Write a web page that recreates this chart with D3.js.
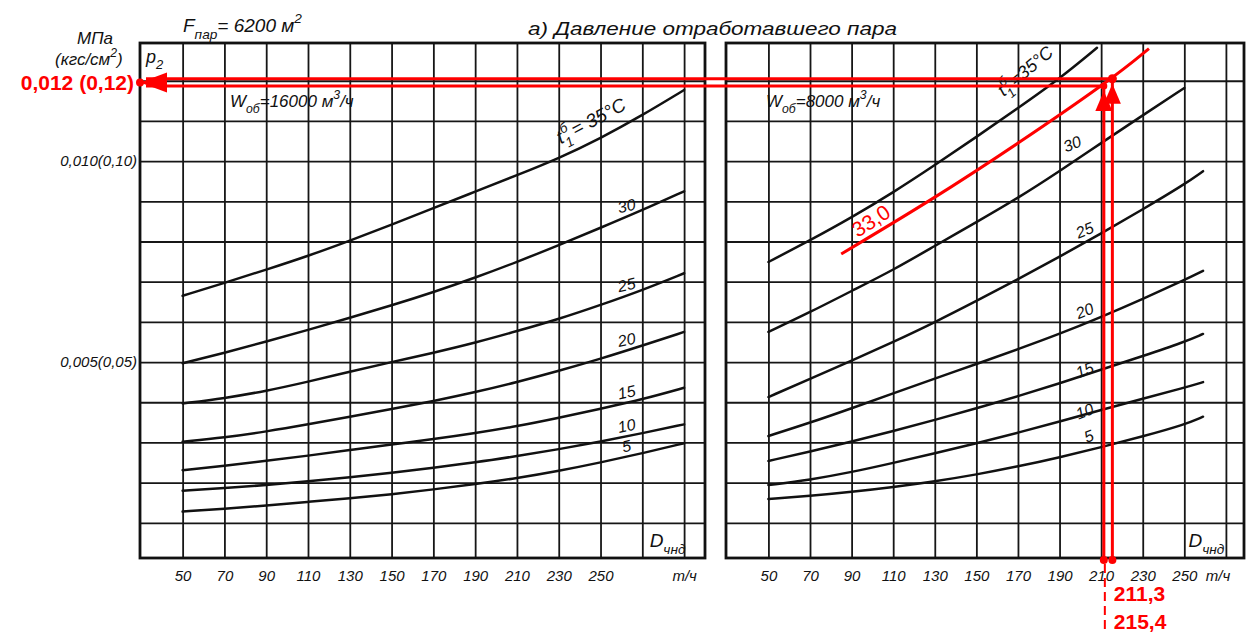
<!DOCTYPE html>
<html>
<head>
<meta charset="utf-8">
<script src="https://cdn.jsdelivr.net/npm/d3@7"></script>
<style>
  body { margin: 0; background: #fff; }
  svg { display: block; }
  .grid line { stroke: #161616; stroke-width: 1.8; }
  .grid path, .ticks path { display: none; }
  .ticks text { font-family: "Liberation Sans", Arial, sans-serif; font-style: italic; font-size: 15px; fill: #111; }
  .lbl { font-family: "Liberation Sans", Arial, sans-serif; font-style: italic; fill: #111; }
  .curve { fill: none; stroke: #111; stroke-width: 2.5; stroke-linecap: round; }
  .red { fill: none; stroke: #ff0000; stroke-width: 3; }
  .redtxt { font-family: "Liberation Sans", Arial, sans-serif; font-weight: bold; fill: #ff0000; }
</style>
</head>
<body>
<svg id="chart" width="1252" height="632"></svg>
<script>
// ---- data (pressure in MPa, steam flow D in t/h) ----
const tempLabels = ["35", "30", "25", "20", "15", "10", "5"];

// left panel: W = 16000 m3/h
const leftD = [50, 70, 90, 110, 130, 150, 170, 190, 210, 230, 250, 270, 290];
const left35 = [0.00665, 0.00697, 0.00730, 0.00764, 0.00802, 0.00842, 0.00883, 0.00924, 0.00965, 0.01007, 0.01057, 0.01114, 0.01177];
const left30 = [0.00497, 0.00523, 0.00551, 0.00580, 0.00610, 0.00641, 0.00674, 0.00710, 0.00749, 0.00791, 0.00834, 0.00878, 0.00925];
const left25 = [0.00397, 0.00410, 0.00428, 0.00451, 0.00476, 0.00500, 0.00523, 0.00548, 0.00577, 0.00607, 0.00642, 0.00679, 0.00721];
const left20 = [0.00302, 0.00312, 0.00327, 0.00345, 0.00364, 0.00383, 0.00403, 0.00425, 0.00450, 0.00478, 0.00508, 0.00541, 0.00575];
const left15 = [0.00231, 0.00242, 0.00254, 0.00267, 0.00281, 0.00295, 0.00308, 0.00323, 0.00340, 0.00361, 0.00384, 0.00407, 0.00436];
const left10 = [0.00180, 0.00186, 0.00194, 0.00203, 0.00213, 0.00224, 0.00237, 0.00250, 0.00266, 0.00283, 0.00302, 0.00323, 0.00345];
const left5  = [0.00128, 0.00135, 0.00143, 0.00152, 0.00161, 0.00171, 0.00183, 0.00196, 0.00211, 0.00229, 0.00250, 0.00273, 0.00298];

// right panel: W = 8000 m3/h
const rightD35 = [50, 70, 90, 110, 130, 150, 170, 190, 208];
const right35 = [0.00749, 0.00803, 0.00860, 0.00922, 0.00990, 0.01060, 0.01132, 0.01205, 0.01282];
const rightD30 = [50, 70, 90, 110, 130, 150, 170, 190, 210, 230, 250];
const right30 = [0.00575, 0.00624, 0.00677, 0.00729, 0.00789, 0.00848, 0.00908, 0.00975, 0.01045, 0.01114, 0.01182];
const rightD = [50, 70, 90, 110, 130, 150, 170, 190, 210, 230, 250, 259];
const right25 = [0.00413, 0.00458, 0.00503, 0.00550, 0.00599, 0.00652, 0.00706, 0.00762, 0.00820, 0.00880, 0.00942, 0.00975];
const right20 = [0.00316, 0.00349, 0.00385, 0.00422, 0.00459, 0.00495, 0.00532, 0.00570, 0.00612, 0.00657, 0.00704, 0.00727];
const right15 = [0.00254, 0.00277, 0.00302, 0.00328, 0.00356, 0.00385, 0.00415, 0.00447, 0.00481, 0.00515, 0.00550, 0.00570];
const right10 = [0.00194, 0.00207, 0.00226, 0.00249, 0.00273, 0.00298, 0.00324, 0.00352, 0.00381, 0.00409, 0.00436, 0.00450];
const right5  = [0.00159, 0.00167, 0.00177, 0.00189, 0.00203, 0.00220, 0.00240, 0.00263, 0.00288, 0.00315, 0.00344, 0.00364];

// axes
const gridP = [0.001, 0.002, 0.003, 0.004, 0.005, 0.006, 0.007, 0.008, 0.009, 0.010, 0.011, 0.012];
const yTickVals = [0.005, 0.010];
const yTickLabels = ["0,005(0,05)", "0,010(0,10)"];
const xTickVals = [50, 70, 90, 110, 130, 150, 170, 190, 210, 230, 250];

// red read-off annotation
const red33D = [85, 129, 169, 215.4, 233];
const red33P = [0.00769, 0.00905, 0.01040, 0.01205, 0.01280];
const readD = [211.3, 215.4];
const readP = [0.01187, 0.01205];
const readLabels = ["211,3", "215,4"];
const resultLabel = "0,012 (0,12)";

// ---- layout ----
const svg = d3.select("#chart");
const frameTop = 43, frameBottom = 558;
const y = d3.scaleLinear().domain([0.000124, 0.01294]).range([frameBottom, frameTop]);

const panels = [
  {
    x: d3.scaleLinear().domain([29.6, 300]).range([140, 705]),
    gridD: [50, 70, 90, 110, 130, 150, 170, 190, 210, 230, 250, 270, 290],
    unitD: 290,
    curves: [left35, left30, left25, left20, left15, left10, left5].map((p, i) => ({d: leftD, p: p, t: tempLabels[i]})),
    w: "16000", wX: 230, tD: 231, tOff: -13, tDx: 0, tRot: -28, tSize: 19, tText: "= 35°C",
    dD: 273.5
  },
  {
    x: d3.scaleLinear().domain([29.6, 278.7]).range([726, 1244]),
    gridD: [50, 70, 90, 110, 130, 150, 170, 190, 210, 230, 250, 270],
    unitD: 266,
    curves: [
      {d: rightD35, p: right35, t: "35"}, {d: rightD30, p: right30, t: "30"},
      {d: rightD, p: right25, t: "25"}, {d: rightD, p: right20, t: "20"},
      {d: rightD, p: right15, t: "15"}, {d: rightD, p: right10, t: "10"},
      {d: rightD, p: right5, t: "5"}
    ],
    w: "8000", wX: 766, tD: 166, tOff: -17, tDx: -6, tRot: -40, tSize: 18, tText: "=35°C",
    dD: 252
  }
];

// add text pieces with sub/superscripts
function rich(sel, parts, size) {
  let cur = 0;
  parts.forEach(([t, s, dx]) => {
    const target = s === 0 ? 0 : (s > 0 ? -size * 0.45 : size * 0.35);
    const ts = sel.append("tspan")
      .attr("dy", target - cur)
      .style("font-size", (s === 0 ? size : size * 0.72) + "px")
      .text(t);
    if (dx) ts.attr("dx", dx);
    cur = target;
  });
  return sel;
}

function pAt(c, D) {
  return d3.scaleLinear().domain(c.d).range(c.p)(D);
}

panels.forEach((pn, pi) => {
  const x = pn.x;
  const g = svg.append("g");
  const x0 = x.range()[0], x1 = x.range()[1];

  // grid
  g.append("g").attr("class", "grid")
    .attr("transform", `translate(0,${frameBottom})`)
    .call(d3.axisBottom(x).tickValues(pn.gridD).tickSize(-(frameBottom - frameTop)).tickFormat(""));
  g.append("g").attr("class", "grid")
    .attr("transform", `translate(${x0},0)`)
    .call(d3.axisLeft(y).tickValues(gridP).tickSize(-(x1 - x0)).tickFormat(""));

  // frame
  g.append("rect")
    .attr("x", x0).attr("y", frameTop)
    .attr("width", x1 - x0).attr("height", frameBottom - frameTop)
    .attr("fill", "none").attr("stroke", "#111").attr("stroke-width", 2.8);

  // x tick labels
  g.append("g").attr("class", "ticks")
    .attr("transform", `translate(0,${frameBottom})`)
    .call(d3.axisBottom(x).tickValues([...xTickVals, pn.unitD]).tickSize(0).tickPadding(12)
      .tickFormat(d => d === pn.unitD ? "т/ч" : d));

  // curves
  const line = d3.line()
    .x(d => x(d[0]))
    .y(d => y(d[1]))
    .curve(d3.curveBasis);
  g.selectAll("path.curve")
    .data(pn.curves)
    .join("path")
    .attr("class", "curve")
    .attr("d", c => line(c.d.map((v, i) => [v, c.p[i]])));

  // curve labels
  pn.curves.slice(1).forEach((c, i) => {
    let lx, ly, rot, anchor;
    if (pi === 0) {
      lx = x(263); ly = y(pAt(c, 263)) - 5; rot = -12; anchor = "middle";
    } else {
      const offs = [-10, -12, -12, -4, -2, -12];
      lx = x(i === 0 ? 201 : 207); ly = y(pAt(c, 201)) + offs[i]; rot = -22; anchor = "end";
    }
    g.append("text").attr("class", "lbl")
      .attr("transform", `translate(${lx},${ly}) rotate(${rot})`)
      .attr("text-anchor", anchor)
      .style("font-size", "16px")
      .text(c.t);
  });

  // t = 35 C label along the top curve
  const c35 = pn.curves[0];
  rich(g.append("text").attr("class", "lbl")
    .attr("transform", `translate(${x(pn.tD) + pn.tDx},${y(pAt(c35, pn.tD)) + pn.tOff}) rotate(${pn.tRot})`),
    [["t", 0], ["1", -1], ["б", 1, -7], [pn.tText, 0, 3]], pn.tSize);

  // W label
  rich(g.append("text").attr("class", "lbl")
    .attr("x", pn.wX).attr("y", 107),
    [["W", 0], ["об", -1], ["=" + pn.w + " м", 0], ["3", 1], ["/ч", 0]], 17);

  // D label
  rich(g.append("text").attr("class", "lbl")
    .attr("x", x(pn.dD)).attr("y", 547),
    [["D", 0], ["чнд", -1]], 19);
});

// y axis labels (left panel only)
const xl = panels[0].x;
svg.append("g").attr("class", "ticks")
  .attr("transform", `translate(${xl.range()[0]},0)`)
  .call(d3.axisLeft(y).tickValues(yTickVals).tickSize(0).tickPadding(3)
    .tickFormat((d, i) => yTickLabels[i]))
  .selectAll("text").style("font-size", "15px");

svg.append("text").attr("class", "lbl").attr("x", 95).attr("y", 44)
  .attr("text-anchor", "middle").style("font-size", "17px").text("МПа");
rich(svg.append("text").attr("class", "lbl").attr("x", 55).attr("y", 65),
  [["(кгс/см", 0], ["2", 1], [")", 0]], 17);
rich(svg.append("text").attr("class", "lbl").attr("x", 146).attr("y", 63),
  [["p", 0], ["2", -1]], 18);
rich(svg.append("text").attr("class", "lbl").attr("x", 183).attr("y", 32),
  [["F", 0], ["пар", -1], ["= 6200 м", 0], ["2", 1]], 19);
svg.append("text").attr("class", "lbl").attr("x", 528).attr("y", 35)
  .attr("textLength", 369).attr("lengthAdjust", "spacingAndGlyphs")
  .style("font-size", "18px").text("а) Давление отработавшего пара");

// ---- red read-off annotation ----
const xr = panels[1].x;
const red = svg.append("g");

red.append("path").attr("class", "red")
  .attr("d", d3.line().x(d => xr(d[0])).y(d => y(d[1])).curve(d3.curveBasis)(red33D.map((v, i) => [v, red33P[i]])));
red.append("text").attr("class", "redtxt")
  .attr("transform", `translate(${xr(93)},${y(pAt({d: red33D, p: red33P}, 93)) - 6}) rotate(-33)`)
  .style("font-weight", "normal").style("font-size", "21px").text("33,0");

readD.forEach((D, i) => {
  const px = xr(D), py = y(readP[i]);
  // vertical from the axis up to the curve, horizontal to the pressure axis
  red.append("line").attr("class", "red")
    .attr("x1", px).attr("x2", px).attr("y1", frameBottom + 2).attr("y2", py);
  red.append("line").attr("class", "red")
    .attr("x1", xl.range()[0] + 6).attr("x2", px).attr("y1", py).attr("y2", py);
  red.append("path").attr("fill", "#ff0000")
    .attr("d", `M${px},${py + 5}L${px - 8.5},${py + 25}L${px + 8.5},${py + 25}Z`);
  red.append("circle").attr("cx", px).attr("cy", py).attr("r", i === 1 ? 4.5 : 3.5).attr("fill", "#ff0000");
  red.append("circle").attr("cx", px).attr("cy", frameBottom + 2).attr("r", 4).attr("fill", "#ff0000");
  red.append("text").attr("class", "redtxt")
    .attr("x", xr(readD[0]) + 10).attr("y", 601 + i * 28)
    .style("font-size", "21px").text(readLabels[i]);
});
red.append("line").attr("stroke", "#ff0000").attr("stroke-width", 2)
  .attr("stroke-dasharray", "9,5")
  .attr("x1", xr(readD[0]) + 1).attr("x2", xr(readD[0]) + 1)
  .attr("y1", frameBottom + 6).attr("y2", 632);

const ay = y(d3.mean(readP));
const ax = xl.range()[0];
red.append("path").attr("fill", "#ff0000")
  .attr("d", `M${ax},${ay}L${ax + 27},${ay - 10}L${ax + 27},${ay + 10}Z`);
red.append("circle").attr("cx", ax).attr("cy", ay).attr("r", 4).attr("fill", "#ff0000");
red.append("text").attr("class", "redtxt")
  .attr("x", ax - 6).attr("y", ay + 8).attr("text-anchor", "end")
  .style("font-size", "21px").text(resultLabel);
</script>
</body>
</html>
